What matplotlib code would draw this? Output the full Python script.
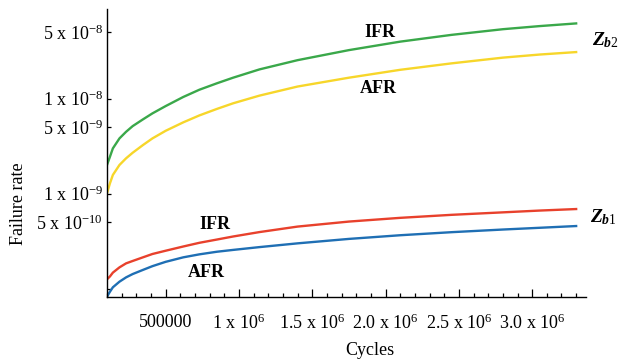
import matplotlib
matplotlib.use('Agg')
import matplotlib.pyplot as plt
from matplotlib.ticker import MultipleLocator, FixedLocator, NullLocator

plt.rcParams['font.family'] = ['Liberation Serif', 'DejaVu Serif']
# 数式フォント（Z_b は太字斜体）
plt.rcParams['mathtext.fontset'] = 'custom'
plt.rcParams['mathtext.rm'] = 'Liberation Serif'
plt.rcParams['mathtext.it'] = 'Liberation Serif:italic:bold'
plt.rcParams['mathtext.bf'] = 'Liberation Serif:bold'

# データ
cycles = [1.0e5, 1.2e5, 1.4e5, 1.85e5, 2.3e5, 2.75e5, 3.45e5, 4.1e5, 5.0e5, 6.2e5, 7.3e5,
          8.5e5, 9.6e5, 1.14e6, 1.4e6, 1.75e6, 2.1e6, 2.45e6, 2.8e6, 3.05e6, 3.3e6]

ifr_zb2 = [2.0e-9, 2.44e-9, 2.99e-9, 3.81e-9, 4.47e-9, 5.13e-9, 6.04e-9, 6.99e-9, 8.34e-9, 1.04e-8, 1.24e-8,
           1.45e-8, 1.66e-8, 2.03e-8, 2.54e-8, 3.24e-8, 3.98e-8, 4.69e-8, 5.38e-8, 5.80e-8, 6.19e-8]
afr_zb2 = [1.005e-9, 1.28e-9, 1.57e-9, 2.0e-9, 2.35e-9, 2.69e-9, 3.24e-9, 3.81e-9, 4.58e-9, 5.62e-9, 6.65e-9,
           7.79e-9, 8.92e-9, 1.075e-8, 1.34e-8, 1.66e-8, 2.01e-8, 2.35e-8, 2.70e-8, 2.91e-8, 3.09e-8]
ifr_zb1 = [1.25e-10, 1.34e-10, 1.47e-10, 1.67e-10, 1.84e-10, 1.95e-10, 2.13e-10, 2.31e-10, 2.50e-10, 2.77e-10, 3.03e-10,
           3.28e-10, 3.53e-10, 3.93e-10, 4.49e-10, 5.07e-10, 5.55e-10, 5.97e-10, 6.34e-10, 6.62e-10, 6.87e-10]
afr_zb1 = [8.2e-11, 9.25e-11, 1.03e-10, 1.18e-10, 1.31e-10, 1.42e-10, 1.57e-10, 1.72e-10, 1.91e-10, 2.13e-10, 2.29e-10,
           2.44e-10, 2.55e-10, 2.73e-10, 2.99e-10, 3.33e-10, 3.64e-10, 3.92e-10, 4.18e-10, 4.36e-10, 4.55e-10]

y_ticks = [1e-10, 5e-10, 1e-9, 5e-9, 1e-8, 5e-8]
y_tick_labels = ['', r'5 x 10$^{-10}$', r'1 x 10$^{-9}$', r'5 x 10$^{-9}$', r'1 x 10$^{-8}$', r'5 x 10$^{-8}$']
x_ticks = [5e5, 1e6, 1.5e6, 2e6, 2.5e6, 3e6]
x_tick_labels = ['500000', r'1 x 10$^{6}$', r'1.5 x 10$^{6}$', r'2.0 x 10$^{6}$', r'2.5 x 10$^{6}$', r'3.0 x 10$^{6}$']

fig = plt.figure(figsize=(6.21, 3.63), dpi=100)
ax = fig.add_axes([0.1723, 0.1818, 0.772, 0.793])

ax.plot(cycles, ifr_zb2, color='#3aa84a', lw=1.7)
ax.plot(cycles, afr_zb2, color='#f7d62a', lw=1.7)
ax.plot(cycles, ifr_zb1, color='#e8412c', lw=1.7)
ax.plot(cycles, afr_zb1, color='#1f6fb4', lw=1.7)

ax.set_yscale('log')
ax.set_xlim(1e5, 3.37e6)
ax.set_ylim(8.14e-11, 8.75e-8)

# 軸目盛り
ax.yaxis.set_major_locator(FixedLocator(y_ticks))
ax.set_yticklabels(y_tick_labels)
ax.yaxis.set_minor_locator(NullLocator())
ax.set_xticks(x_ticks)
ax.set_xticklabels(x_tick_labels)
ax.xaxis.set_minor_locator(MultipleLocator(1e5))
ax.tick_params(axis='both', which='major', direction='in', labelsize=13, width=0.9)
ax.tick_params(axis='x', which='major', length=6, pad=12)
ax.tick_params(axis='x', which='minor', direction='in', length=3, width=0.9)
ax.tick_params(axis='y', which='major', length=3, pad=3)

for s in ['top', 'right']:
    ax.spines[s].set_visible(False)
for s in ['left', 'bottom']:
    ax.spines[s].set_linewidth(1.0)

# ラベル
ax.text(1.962e6, 5.0e-8, 'IFR', fontsize=13, fontweight='bold', ha='center', va='center')
ax.text(1.948e6, 1.29e-8, 'AFR', fontsize=13, fontweight='bold', ha='center', va='center')
ax.text(0.835e6, 4.78e-10, 'IFR', fontsize=13, fontweight='bold', ha='center', va='center')
ax.text(0.78e6, 1.46e-10, 'AFR', fontsize=13, fontweight='bold', ha='center', va='center')
ax.text(3.5e6, 4.13e-8, r'$Z_{b\mathit{2}}$', fontsize=14, ha='center', va='center', clip_on=False)
ax.text(3.485e6, 5.66e-10, r'$Z_{b\mathit{1}}$', fontsize=14, ha='center', va='center', clip_on=False)

fig.text(0.029, 0.44, 'Failure rate', fontsize=13, rotation=90, ha='center', va='center')
fig.text(0.596, 0.035, 'Cycles', fontsize=13, ha='center', va='center')

plt.savefig('out.png', dpi=100)
